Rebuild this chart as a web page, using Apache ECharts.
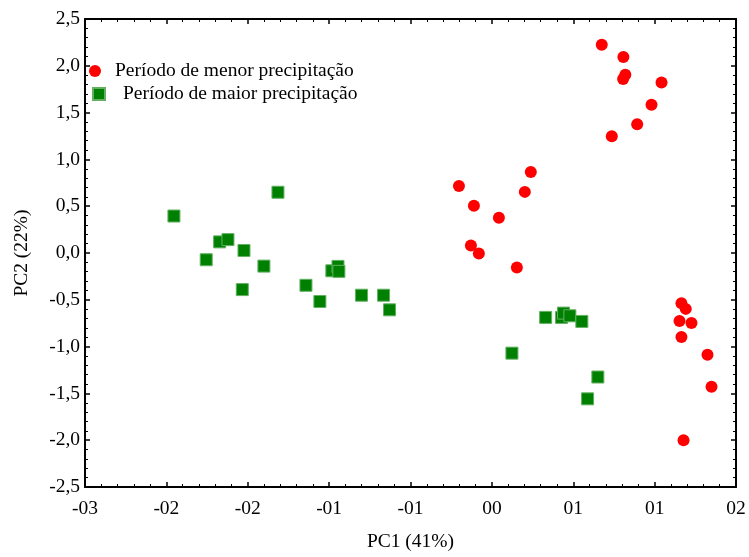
<!DOCTYPE html>
<html>
<head>
<meta charset="utf-8">
<script src="https://cdn.jsdelivr.net/npm/echarts@6/dist/echarts.min.js"></script>
<style>
html,body{margin:0;padding:0;background:#fff;}
#chart{width:749px;height:557px;}
</style>
</head>
<body>
<div id="chart"></div>
<script>
// PC1 axis: from -0.3 to 0.2 in 8 steps of 0.0625; labels as printed in the original
var xMin = -0.3, xStep = 0.0625, xSteps = 8;
var xTickLabels = ['-03', '-02', '-02', '-01', '-01', '00', '01', '01', '02'];
var yMin = -2.5, yMax = 2.5, yStep = 0.5;

var seriesNames = ['Período de menor precipitação', 'Período de maior precipitação'];

// Período de menor precipitação (PC1, PC2)
var menorPC1 = [-0.0128, -0.0013, -0.0036, 0.0025, 0.0179, 0.0378, 0.0424, 0.0317,
                0.0969, 0.1135, 0.1150, 0.1133, 0.1428, 0.1351, 0.1241, 0.1046,
                0.1581, 0.1614, 0.1566, 0.1658, 0.1581, 0.1781, 0.1812, 0.1597];
var menorPC2 = [0.717, 0.504, 0.080, -0.005, 0.377, 0.653, 0.865, -0.154,
                2.224, 2.093, 1.905, 1.860, 1.821, 1.584, 1.375, 1.247,
                -0.536, -0.597, -0.727, -0.748, -0.897, -1.088, -1.428, -2.001];

// Período de maior precipitação (PC1, PC2)
var maiorPC1 = [-0.2317, -0.1518, -0.2069, -0.1966, -0.1902, -0.1779, -0.1626,
                -0.1104, -0.1057, -0.1050, -0.1792, -0.1303, -0.1196, -0.0876,
                -0.0707, -0.0661, 0.0538, 0.0660, 0.0675, 0.0724, 0.0816,
                0.0279, 0.0939, 0.0860];
var maiorPC2 = [0.395, 0.649, -0.072, 0.119, 0.143, 0.027, -0.140,
                -0.190, -0.143, -0.196, -0.391, -0.345, -0.518, -0.451,
                -0.451, -0.607, -0.688, -0.688, -0.642, -0.671, -0.731,
                -1.070, -1.325, -1.558];

function toAxis(v) { return (v - xMin) / xStep; }
function pairs(xs, ys) { return xs.map(function (x, i) { return [toAxis(x), ys[i]]; }); }

var font = "'Liberation Serif', 'Times New Roman', serif";
var fs = 19.5;
var axisLine = { show: true, onZero: false, lineStyle: { color: '#000', width: 2 } };
var tick = { show: true, inside: true, length: 5, lineStyle: { color: '#000', width: 1.5 } };
var minor = { show: true, splitNumber: 5, length: 3, lineStyle: { color: '#000', width: 1 } };

var chart = echarts.init(document.getElementById('chart'), null, { renderer: 'canvas' });
chart.setOption({
  animation: false,
  backgroundColor: '#fff',
  textStyle: { fontFamily: font },
  grid: { left: 85, right: 13, top: 19, bottom: 67, containLabel: false },
  legend: [
    {
      data: [{ name: seriesNames[0], icon: 'circle' }],
      left: 84, top: 56, orient: 'vertical',
      itemWidth: 12, itemHeight: 12,
      textStyle: { fontFamily: font, fontSize: fs, color: '#000', lineHeight: 20, padding: [0, 0, 0, 9] }
    },
    {
      data: [{ name: seriesNames[1], icon: 'rect' }],
      left: 87, top: 79, orient: 'vertical',
      itemWidth: 12, itemHeight: 12,
      textStyle: { fontFamily: font, fontSize: fs, color: '#000', lineHeight: 20, padding: [0, 0, 0, 13] }
    }
  ],
  xAxis: [
    {
      type: 'value', min: 0, max: xSteps, interval: 1, position: 'bottom',
      name: 'PC1 (41%)', nameLocation: 'middle', nameGap: 45,
      nameTextStyle: { fontFamily: font, fontSize: fs, color: '#000' },
      axisLine: axisLine, axisTick: tick, minorTick: minor,
      splitLine: { show: false },
      axisLabel: {
        fontFamily: font, fontSize: fs, color: '#000', margin: 12,
        formatter: function (v) { return xTickLabels[Math.round(v)]; }
      }
    },
    {
      type: 'value', min: 0, max: xSteps, interval: 1, position: 'top',
      axisLine: axisLine, axisTick: tick, minorTick: minor,
      splitLine: { show: false }, axisLabel: { show: false }
    }
  ],
  yAxis: [
    {
      type: 'value', min: yMin, max: yMax, interval: yStep, position: 'left',
      name: 'PC2 (22%)', nameLocation: 'middle', nameGap: 53,
      nameTextStyle: { fontFamily: font, fontSize: fs, color: '#000' },
      axisLine: axisLine, axisTick: tick, minorTick: minor,
      splitLine: { show: false },
      axisLabel: {
        fontFamily: font, fontSize: fs, color: '#000', margin: 5,
        formatter: function (v) { return v.toFixed(1).replace('.', ','); }
      }
    },
    {
      type: 'value', min: yMin, max: yMax, interval: yStep, position: 'right',
      axisLine: axisLine, axisTick: tick, minorTick: minor,
      splitLine: { show: false }, axisLabel: { show: false }
    }
  ],
  series: [
    {
      name: seriesNames[0], type: 'scatter', symbol: 'circle', symbolSize: 12,
      itemStyle: { color: '#ff0000', opacity: 1 },
      data: pairs(menorPC1, menorPC2)
    },
    {
      name: seriesNames[1], type: 'scatter', symbol: 'rect', symbolSize: 12,
      itemStyle: { color: '#008000', borderColor: '#63b063', borderWidth: 1, opacity: 1 },
      data: pairs(maiorPC1, maiorPC2)
    }
  ]
});
</script>
</body>
</html>
